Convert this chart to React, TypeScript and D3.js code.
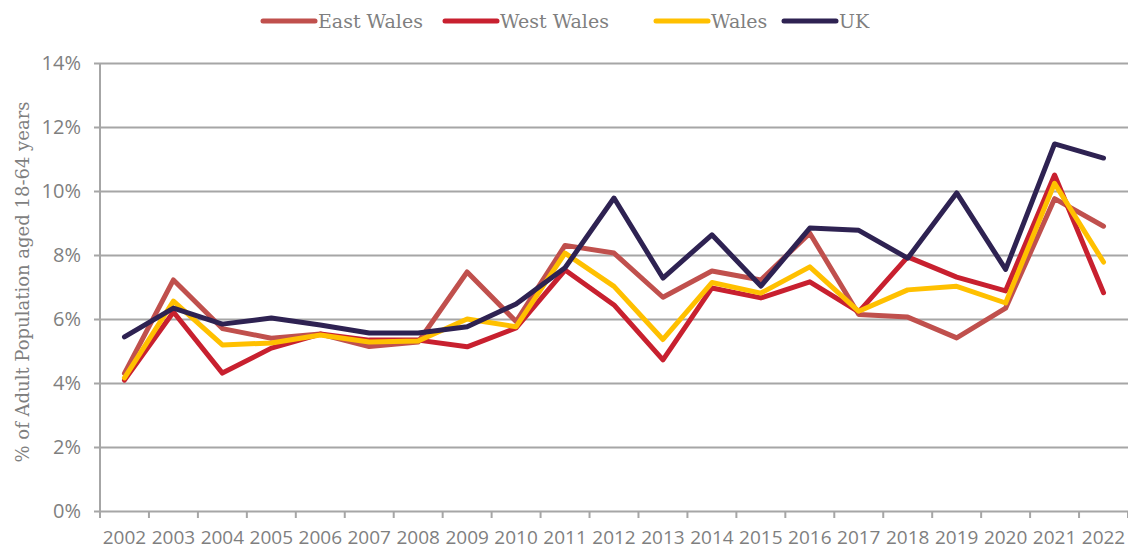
import React, { useEffect, useRef } from "react";
import * as d3 from "d3";

const years = [
  "2002", "2003", "2004", "2005", "2006", "2007", "2008", "2009", "2010", "2011", "2012",
  "2013", "2014", "2015", "2016", "2017", "2018", "2019", "2020", "2021", "2022",
];

const eastWales = [4.3, 7.22, 5.7, 5.4, 5.53, 5.14, 5.28, 7.47, 5.92, 8.3, 8.06, 6.68, 7.5, 7.22, 8.68, 6.14, 6.06, 5.41, 6.34, 9.76, 8.9];
const westWales = [4.09, 6.22, 4.31, 5.09, 5.53, 5.34, 5.34, 5.13, 5.72, 7.53, 6.44, 4.72, 6.97, 6.66, 7.16, 6.22, 7.94, 7.31, 6.88, 10.5, 6.82];
const wales = [4.16, 6.56, 5.19, 5.25, 5.5, 5.28, 5.31, 6.0, 5.76, 8.06, 7.02, 5.36, 7.14, 6.81, 7.63, 6.24, 6.91, 7.02, 6.5, 10.24, 7.78];
const uk = [5.44, 6.34, 5.84, 6.03, 5.81, 5.56, 5.56, 5.76, 6.47, 7.6, 9.78, 7.28, 8.63, 7.03, 8.84, 8.77, 7.9, 9.94, 7.55, 11.47, 11.03];

const seriesNames = ["East Wales", "West Wales", "Wales", "UK"];
const seriesValues = [eastWales, westWales, wales, uk];
const seriesColors = ["#C0504D", "#C8202F", "#FFC000", "#2E2252"];

const yTicks = [0, 2, 4, 6, 8, 10, 12, 14];

export default function App() {
  const svgRef = useRef<SVGSVGElement>(null);

  useEffect(() => {
    const svg = d3.select(svgRef.current);
    svg.selectAll("*").remove();

    const width = 1128;
    const height = 552;
    const margin = { top: 63, right: 0, bottom: 41, left: 100 };
    const serif = "'DejaVu Serif', 'Liberation Serif', serif";
    const sans = "'Open Sans', 'Noto Sans', sans-serif";
    const grey = "#7F7F7F";
    const lineGrey = "#A6A6A6";

    const x = d3
      .scaleBand()
      .domain(years)
      .range([margin.left, width - margin.right]);

    const y = d3
      .scaleLinear()
      .domain([0, 14])
      .range([height - margin.bottom, margin.top]);

    // Gridlines + y labels
    const yAxisG = svg
      .append("g")
      .attr("transform", `translate(${margin.left},0)`)
      .call(
        d3
          .axisLeft(y)
          .tickValues(yTicks)
          .tickSize(-(width - margin.left))
          .tickFormat((d) => `${d}%`)
      );
    yAxisG.select(".domain").remove();
    yAxisG
      .selectAll("line")
      .attr("x1", -6)
      .attr("stroke", lineGrey)
      .attr("stroke-width", 2);
    yAxisG
      .selectAll("text")
      .attr("x", -19)
      .style("fill", grey)
      .style("font-family", sans)
      .style("font-size", "20px");

    // Y axis line
    svg
      .append("line")
      .attr("x1", margin.left)
      .attr("x2", margin.left)
      .attr("y1", y(14))
      .attr("y2", y(0) + 6)
      .attr("stroke", lineGrey)
      .attr("stroke-width", 2);

    // X axis ticks at band edges
    const xAxisG = svg.append("g");
    const edges = years.map((d) => x(d) as number).concat([width - margin.right]);
    xAxisG
      .selectAll("line")
      .data(edges)
      .enter()
      .append("line")
      .attr("x1", (d) => d)
      .attr("x2", (d) => d)
      .attr("y1", y(0))
      .attr("y2", y(0) + 7)
      .attr("stroke", lineGrey)
      .attr("stroke-width", 2);
    xAxisG
      .selectAll("text")
      .data(years)
      .enter()
      .append("text")
      .attr("x", (d) => (x(d) as number) + x.bandwidth() / 2)
      .attr("y", 544)
      .attr("text-anchor", "middle")
      .style("fill", grey)
      .style("font-family", sans)
      .style("font-size", "19px")
      .text((d) => d);

    // Y axis title
    svg
      .append("text")
      .attr("transform", "rotate(-90)")
      .attr("x", -282)
      .attr("y", 29)
      .attr("text-anchor", "middle")
      .style("fill", grey)
      .style("font-family", serif)
      .style("font-size", "18px")
      .text("% of Adult Population aged 18-64 years");

    // Lines
    const line = d3
      .line<number>()
      .x((_, i) => (x(years[i]) as number) + x.bandwidth() / 2)
      .y((d) => y(d));

    seriesValues.forEach((vals, i) => {
      svg
        .append("path")
        .datum(vals)
        .attr("d", line)
        .attr("fill", "none")
        .attr("stroke", seriesColors[i])
        .attr("stroke-width", 5)
        .attr("stroke-linejoin", "round")
        .attr("stroke-linecap", "round");
    });

    // Legend
    const legendX = [263, 445, 656, 784];
    seriesNames.forEach((name, i) => {
      const g = svg.append("g").attr("transform", `translate(${legendX[i]},21)`);
      g.append("line")
        .attr("x1", 0)
        .attr("x2", 52)
        .attr("stroke", seriesColors[i])
        .attr("stroke-width", 5)
        .attr("stroke-linecap", "round");
      g.append("text")
        .attr("x", 55)
        .attr("y", 7)
        .style("fill", grey)
        .style("font-family", serif)
        .style("font-size", "19px")
        .text(name);
    });
  }, []);

  return (
    <div style={{ position: "absolute", left: 0, top: 0 }}>
      <svg ref={svgRef} width={1128} height={552} style={{ display: "block", background: "#fff" }} />
    </div>
  );
}
